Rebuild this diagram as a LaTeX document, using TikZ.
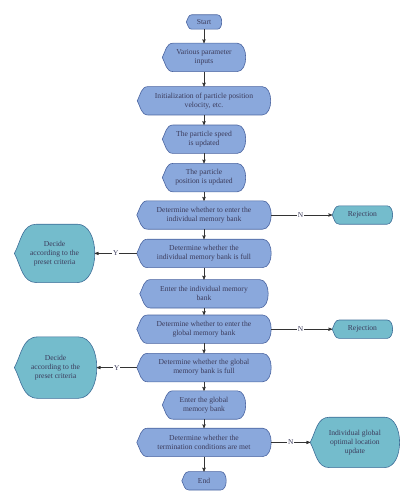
\documentclass[tikz,border=0pt]{standalone}
\usepackage{fontspec}
\setmainfont{Liberation Serif}
\usepackage{tikz}
\usetikzlibrary{
        arrows,
        backgrounds,
        calc,
        positioning
    }
\definecolor{boxblue}{HTML}{8AA8DC}
\definecolor{lineblue}{HTML}{4A64A0}
\definecolor{boxteal}{HTML}{74BCCC}
\definecolor{lineteal}{HTML}{3E6E98}
\definecolor{txtgray}{HTML}{3C3C5C}
\tikzset{>=stealth',auto}
\tikzset{
    disp/.style={rectangle,inner sep=0pt,minimum height=28pt,align=center,
        text=txtgray,font=\fontsize{7.6}{9}\selectfont},
    arr/.style={->,draw=black!80,line width=0.5pt},
    lbl/.style={auto=false,fill=white,inner sep=1pt,text=txtgray,font=\fontsize{7.4}{8}\selectfont}
}
% display shape drawn behind a node
\newcommand{\dispshape}[3]{%
    \path[draw=#3,fill=#2,line width=0.6pt]
        let \p1=(#1.north east), \p2=(#1.south west), \n1={\y1-\y2} in
        (\x2,{0.5*(\y1+\y2)}) to[out=62,in=180] ({\x2+0.38*\n1},\y1)
        -- ({\x1-0.3*\n1},\y1)
        .. controls ({\x1+0.1*\n1},\y1) and ({\x1+0.1*\n1},\y2) .. ({\x1-0.3*\n1},\y2)
        -- ({\x2+0.38*\n1},\y2) to[out=180,in=-62] (\x2,{0.5*(\y1+\y2)}) -- cycle;}

\begin{document}
\begin{tikzpicture}[x=1pt,y=1pt]
    \useasboundingbox (0,0) rectangle (414,-500);
    \node[disp,minimum width=35pt,minimum height=14pt] (start) at (204,-22) {Start};
    \node[disp,minimum width=83pt] (inputs) [below=14pt of start] {Various parameter\\inputs};
    \node[disp,minimum width=133pt] (init) [below=15pt of inputs] {Initialization of particle position\\velocity, etc.};
    \node[disp,minimum width=83pt] (speed) [below=10pt of init] {The particle speed\\is updated};
    \node[disp,minimum width=83pt] (pos) [below=10pt of speed] {The particle\\position is updated};
    \node[disp,minimum width=134pt] (detind) [below=9pt of pos] {Determine whether to enter the\\individual memory bank};
    \node[disp,minimum width=134pt] (fullind) [below=10pt of detind] {Determine whether the\\individual memory bank is full};
    \node[disp,minimum width=128pt] (enterind) [below=12pt of fullind] {Enter the individual memory\\bank};
    \node[disp,minimum width=134pt] (detglob) [below=7pt of enterind] {Determine whether to enter the\\global memory bank};
    \node[disp,minimum width=134pt] (fullglob) [below=10pt of detglob] {Determine whether the global\\memory bank is full};
    \node[disp,minimum width=83pt] (enterglob) [below=9pt of fullglob] {Enter the global\\memory bank};
    \node[disp,minimum width=134pt] (term) [below=9pt of enterglob] {Determine whether the\\termination conditions are met};
    \node[disp,minimum width=44pt,minimum height=18pt] (end) [below=15pt of term] {End};
    \node[disp,minimum width=60pt,minimum height=18pt] (rej1) [right=61pt of detind] {Rejection};
    \node[disp,minimum width=80pt,minimum height=58pt] (dec1) [left=42pt of fullind] {Decide\\according to the\\preset criteria};
    \node[disp,minimum width=60pt,minimum height=18pt] (rej2) [right=61pt of detglob] {Rejection};
    \node[disp,minimum width=82pt,minimum height=61pt] (dec2) [left=40pt of fullglob] {Decide\\according to the\\preset criteria};
    \node[disp,minimum width=89pt,minimum height=50pt] (upd) [right=39pt of term] {Individual global\\optimal location\\update};
    \begin{scope}[on background layer]
        \foreach \nm in {start,inputs,init,speed,pos,detind,fullind,enterind,detglob,fullglob,enterglob,term,end}
            {\dispshape{\nm}{boxblue}{lineblue}}
        \foreach \nm in {rej1,dec1,rej2,dec2,upd}
            {\dispshape{\nm}{boxteal}{lineteal}}
    \end{scope}
    \draw[arr] (start) -- (inputs);
    \draw[arr] (inputs) -- (init);
    \draw[arr] (init) -- (speed);
    \draw[arr] (speed) -- (pos);
    \draw[arr] (pos) -- (detind);
    \draw[arr] (detind) -- (fullind);
    \draw[arr] (fullind) -- (enterind);
    \draw[arr] (enterind) -- (detglob);
    \draw[arr] (detglob) -- (fullglob);
    \draw[arr] (fullglob) -- (enterglob);
    \draw[arr] (enterglob) -- (term);
    \draw[arr] (term) -- (end);
    \draw[arr] (detind) -- node[lbl,pos=0.48]{N} (rej1);
    \draw[arr] (fullind) -- node[lbl]{Y} (dec1);
    \draw[arr] (detglob) -- node[lbl,pos=0.48]{N} (rej2);
    \draw[arr] (fullglob) -- node[lbl]{Y} (dec2);
    \draw[arr] (term) -- node[lbl]{N} (upd);
\end{tikzpicture}
\end{document}
